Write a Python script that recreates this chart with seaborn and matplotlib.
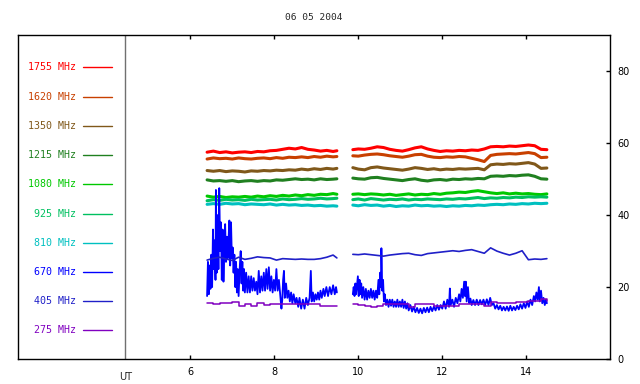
import numpy as np
import pandas as pd
import matplotlib
matplotlib.use("Agg")
import matplotlib.pyplot as plt
import seaborn as sns

# ---------------- data ----------------
title = "06 05 2004"
freqs = ["1755 MHz", "1620 MHz", "1350 MHz", "1215 MHz", "1080 MHz",
         "925 MHz", "810 MHz", "670 MHz", "405 MHz", "275 MHz"]
colors = ["#ff0000", "#c84000", "#80581a", "#208020", "#00c800",
          "#00c060", "#00c0c0", "#0000ff", "#2020c8", "#8000c0"]

t_seg1 = [6.40, 6.55, 6.70, 6.85, 7.00, 7.15, 7.30, 7.45, 7.60, 7.75, 7.90,
          8.05, 8.20, 8.35, 8.50, 8.65, 8.80, 8.95, 9.10, 9.25, 9.40, 9.49]
t_seg2 = [9.87, 10.00, 10.15, 10.30, 10.45, 10.60, 10.75, 10.90, 11.05, 11.20,
          11.35, 11.50, 11.65, 11.80, 11.95, 12.10, 12.25, 12.40, 12.55, 12.70,
          12.85, 13.00, 13.15, 13.30, 13.45, 13.60, 13.75, 13.90, 14.05, 14.20,
          14.35, 14.49]

v1755_a = [57.5, 57.8, 57.4, 57.6, 57.3, 57.5, 57.6, 57.4, 57.7, 57.6, 57.9,
           58.0, 58.3, 58.6, 58.4, 58.8, 58.3, 58.1, 57.8, 58.0, 57.7, 57.9]
v1755_b = [58.2, 58.4, 58.3, 58.6, 59.0, 58.8, 58.3, 58.0, 57.8, 58.2, 58.7,
           59.0, 58.4, 58.0, 57.7, 57.9, 57.8, 58.0, 57.9, 58.1, 58.0, 58.4,
           59.0, 59.1, 59.0, 59.2, 59.1, 59.3, 59.5, 59.3, 58.3, 58.2]
v1620_a = [55.6, 55.9, 55.7, 55.8, 55.6, 55.9, 55.7, 55.6, 55.8, 55.9, 55.7,
           56.0, 55.8, 56.1, 56.0, 56.2, 56.0, 56.3, 56.1, 56.4, 56.2, 56.3]
v1620_b = [56.5, 56.4, 56.7, 56.9, 57.0, 56.8, 56.5, 56.3, 56.1, 56.4, 56.8,
           56.9, 56.4, 56.1, 56.0, 56.2, 56.1, 56.3, 56.2, 55.8, 55.4, 54.9,
           56.6, 56.9, 57.0, 57.1, 57.0, 57.2, 57.4, 57.1, 56.0, 56.1]
v1350_a = [52.4, 52.2, 52.4, 52.1, 52.3, 52.2, 52.0, 52.3, 52.2, 52.4, 52.3,
           52.5, 52.4, 52.6, 52.5, 52.8, 52.6, 52.9, 52.7, 53.0, 52.8, 53.0]
v1350_b = [53.2, 52.8, 52.6, 53.2, 53.4, 53.1, 52.9, 52.7, 52.5, 52.8, 53.2,
           53.0, 52.7, 52.9, 52.6, 52.8, 52.7, 52.9, 52.8, 52.9, 53.0, 52.6,
           54.0, 54.2, 54.1, 54.3, 54.2, 54.4, 54.6, 54.2, 53.0, 53.1]
v1215_a = [49.8, 49.5, 49.6, 49.4, 49.6, 49.3, 49.5, 49.6, 49.4, 49.6, 49.5,
           49.8, 49.7, 49.9, 50.1, 49.9, 50.0, 49.8, 50.1, 49.9, 50.0, 50.1]
v1215_b = [50.3, 50.1, 50.0, 50.4, 50.5, 50.2, 50.0, 49.8, 49.6, 49.9, 50.1,
           49.7, 49.5, 49.8, 49.9, 49.7, 50.0, 49.9, 50.1, 50.0, 50.2, 50.1,
           50.8, 50.9, 50.8, 51.0, 50.9, 51.1, 51.2, 50.8, 50.1, 50.0]
v1080_a = [45.3, 45.0, 45.2, 44.9, 45.1, 45.0, 45.2, 45.0, 45.3, 45.1, 45.4,
           45.2, 45.5, 45.3, 45.6, 45.4, 45.7, 45.5, 45.8, 45.7, 46.0, 45.8]
v1080_b = [45.8, 45.9, 45.7, 45.9, 45.8, 45.6, 45.8, 45.5, 45.7, 45.9, 45.6,
           45.8, 45.7, 46.0, 45.8, 46.1, 46.2, 46.4, 46.3, 46.6, 46.8, 46.5,
           46.2, 46.0, 46.2, 45.9, 46.1, 45.9, 46.0, 45.8, 45.7, 45.9]
v925_a = [44.0, 44.3, 44.1, 44.4, 44.2, 44.3, 44.1, 44.4, 44.2, 44.3, 44.4,
          44.2, 44.5, 44.3, 44.4, 44.6, 44.4, 44.5, 44.7, 44.5, 44.6, 44.7]
v925_b = [44.3, 44.5, 44.2, 44.6, 44.4, 44.2, 44.4, 44.3, 44.5, 44.2, 44.4,
          44.3, 44.5, 44.4, 44.3, 44.5, 44.4, 44.6, 44.5, 44.7, 44.9, 44.6,
          44.8, 44.7, 44.9, 44.8, 45.0, 44.9, 45.1, 45.0, 45.1, 45.0]
v810_a = [43.0, 43.2, 43.0, 43.3, 43.1, 43.2, 42.9, 43.1, 43.0, 42.9, 43.1,
          42.8, 43.0, 42.8, 42.9, 42.7, 42.8, 42.6, 42.7, 42.5, 42.6, 42.5]
v810_b = [42.8, 42.6, 42.9, 42.7, 42.8, 42.5, 42.7, 42.4, 42.6, 42.5, 42.8,
          42.6, 42.7, 42.5, 42.6, 42.4, 42.6, 42.5, 42.7, 42.6, 42.8, 42.7,
          42.9, 43.0, 42.9, 43.1, 43.0, 43.2, 43.1, 43.3, 43.2, 43.3]
v405_a = [27.5, 28.0, 28.3, 27.8, 27.4, 28.3, 27.7, 28.0, 28.4, 28.2, 28.1,
          27.5, 27.9, 27.8, 27.7, 27.8, 27.7, 27.7, 27.9, 28.3, 28.9, 28.1]
v405_b = [29.1, 29.0, 29.2, 29.0, 28.8, 28.6, 28.9, 29.1, 29.3, 29.4, 29.0,
          28.8, 29.3, 29.5, 29.7, 29.9, 30.1, 29.9, 30.2, 30.4, 29.9, 29.4,
          30.9, 30.0, 29.4, 28.9, 29.4, 30.1, 27.6, 27.8, 27.7, 27.9]
v275_a = [15.7, 15.3, 15.6, 15.7, 15.9, 14.8, 15.3, 14.8, 15.5, 14.9, 15.2,
          15.3, 15.4, 15.2, 15.4, 15.3, 15.2, 15.2, 14.8, 14.7, 14.6, 14.6]
v275_b = [15.3, 14.9, 14.7, 14.5, 14.8, 15.3, 15.2, 15.3, 15.3, 14.4, 15.3,
          15.3, 15.3, 14.6, 14.6, 14.8, 14.7, 15.3, 15.3, 15.3, 15.2, 14.6,
          15.9, 15.6, 15.5, 15.6, 15.8, 15.9, 16.1, 16.2, 16.6, 16.0]

t670_a = [6.40, 6.42, 6.44, 6.46, 6.48, 6.50, 6.52, 6.54, 6.56, 6.58, 6.60,
          6.61, 6.63, 6.65, 6.67, 6.69, 6.71, 6.73, 6.75, 6.77, 6.79, 6.81,
          6.83, 6.85, 6.87, 6.89, 6.91, 6.93, 6.95, 6.97, 6.99, 7.01, 7.03,
          7.05, 7.07, 7.09, 7.11, 7.13, 7.15, 7.18, 7.20, 7.22, 7.24, 7.26,
          7.28, 7.30, 7.33, 7.36, 7.39, 7.42, 7.45, 7.48, 7.51, 7.54, 7.57,
          7.60, 7.63, 7.66, 7.69, 7.72, 7.75, 7.78, 7.81, 7.84, 7.87, 7.90,
          7.93, 7.96, 7.99, 8.02, 8.05, 8.08, 8.11, 8.14, 8.17, 8.19, 8.21,
          8.23, 8.25, 8.28, 8.31, 8.34, 8.37, 8.40, 8.43, 8.46, 8.50, 8.53,
          8.57, 8.60, 8.64, 8.68, 8.72, 8.76, 8.80, 8.84, 8.87, 8.89, 8.92,
          8.95, 8.98, 9.01, 9.04, 9.07, 9.10, 9.13, 9.17, 9.20, 9.24, 9.28,
          9.32, 9.36, 9.40, 9.44, 9.47, 9.49]
v670_a = [17.5, 27.0, 18.0, 26.0, 19.5, 29.0, 20.0, 36.0, 25.0, 33.0, 22.0,
          47.0, 24.0, 40.0, 25.0, 47.5, 30.0, 38.0, 22.0, 36.0, 21.5, 30.0,
          37.5, 27.0, 34.0, 28.0, 33.0, 38.5, 26.0, 38.0, 28.0, 31.0, 24.0,
          29.0, 20.0, 27.0, 18.5, 25.0, 17.5, 26.0, 30.0, 21.0, 27.0, 19.0,
          25.0, 18.5, 24.0, 18.5, 23.0, 18.5, 23.0, 19.0, 22.5, 19.0, 21.5,
          18.0, 24.5, 18.5, 23.0, 19.0, 24.0, 19.0, 25.0, 19.5, 25.5, 19.0,
          23.0, 18.5, 22.0, 19.0, 25.0, 19.0, 22.0, 18.0, 14.0, 16.5, 22.0,
          24.5, 17.0, 21.0, 17.0, 19.0, 16.0, 18.5, 15.5, 18.0, 15.5, 17.0,
          14.5, 17.0, 14.0, 16.5, 14.0, 17.0, 15.0, 17.0, 24.5, 16.0, 18.5,
          16.0, 18.0, 16.5, 18.5, 16.5, 19.0, 17.0, 19.5, 17.5, 20.0, 17.5,
          20.0, 18.0, 20.5, 18.0, 20.0, 18.5]
t670_b = [9.87, 9.89, 9.91, 9.93, 9.95, 9.97, 9.99, 10.01, 10.03, 10.05, 10.07,
          10.09, 10.12, 10.15, 10.18, 10.21, 10.24, 10.27, 10.30, 10.33, 10.36,
          10.39, 10.42, 10.45, 10.48, 10.50, 10.52, 10.54, 10.55, 10.57, 10.59,
          10.61, 10.63, 10.66, 10.69, 10.72, 10.75, 10.78, 10.81, 10.84, 10.87,
          10.90, 10.93, 10.96, 10.99, 11.02, 11.05, 11.08, 11.11, 11.14, 11.17,
          11.20, 11.24, 11.28, 11.32, 11.36, 11.40, 11.44, 11.48, 11.52, 11.56,
          11.60, 11.64, 11.68, 11.72, 11.76, 11.80, 11.84, 11.88, 11.92, 11.96,
          12.00, 12.04, 12.08, 12.12, 12.16, 12.18, 12.20, 12.24, 12.28, 12.32,
          12.36, 12.40, 12.43, 12.46, 12.49, 12.52, 12.54, 12.56, 12.58, 12.61,
          12.64, 12.67, 12.70, 12.74, 12.78, 12.82, 12.86, 12.90, 12.94, 12.98,
          13.02, 13.06, 13.10, 13.14, 13.18, 13.22, 13.26, 13.30, 13.34, 13.38,
          13.42, 13.46, 13.50, 13.54, 13.58, 13.62, 13.66, 13.70, 13.74, 13.78,
          13.82, 13.86, 13.90, 13.94, 13.98, 14.02, 14.06, 14.10, 14.14, 14.18,
          14.21, 14.24, 14.27, 14.30, 14.32, 14.35, 14.38, 14.41, 14.44, 14.47,
          14.49]
v670_b = [18.0, 20.0, 17.5, 21.0, 18.0, 20.5, 23.0, 17.5, 22.0, 18.0, 21.0,
          17.0, 20.0, 16.5, 19.5, 16.5, 19.0, 17.0, 19.5, 17.0, 19.0,
          16.5, 19.0, 17.0, 22.0, 18.0, 24.0, 20.0, 30.8, 19.0, 22.0,
          16.0, 18.0, 15.0, 16.5, 14.5, 16.5, 14.8, 16.5, 14.5, 16.0,
          14.5, 16.5, 14.5, 16.0, 14.5, 16.5, 14.2, 16.0, 14.0, 15.5,
          13.5, 15.0, 13.2, 14.5, 13.0, 14.2, 12.8, 14.0, 12.7, 14.2,
          13.0, 14.3, 13.0, 14.5, 13.3, 14.6, 13.5, 15.0, 13.7, 15.0,
          14.0, 16.0, 14.0, 16.5, 14.5, 19.6, 15.0, 16.5, 14.5, 17.0,
          15.5, 18.0, 16.0, 19.5, 17.0, 21.5, 17.5, 21.5, 16.0, 20.0,
          15.5, 16.8, 15.0, 16.4, 15.0, 16.5, 15.0, 16.4, 15.2, 16.5,
          15.0, 16.6, 15.0, 17.0, 15.0, 15.5, 14.0, 15.0, 13.8, 14.8,
          13.5, 14.5, 13.5, 14.6, 13.4, 14.8, 13.5, 14.5, 13.6, 14.8,
          13.8, 15.2, 14.0, 15.5, 14.2, 16.0, 14.5, 16.5, 15.0, 17.5,
          16.0, 18.5, 16.5, 20.0, 16.0, 19.0, 15.5, 17.0, 15.0, 16.5,
          15.5]

xticks = [6, 8, 10, 12, 14]
yticks = [0, 20, 40, 60, 80]

# ---------------- build long table ----------------
series = {
    "1755 MHz": [(t_seg1, v1755_a), (t_seg2, v1755_b)],
    "1620 MHz": [(t_seg1, v1620_a), (t_seg2, v1620_b)],
    "1350 MHz": [(t_seg1, v1350_a), (t_seg2, v1350_b)],
    "1215 MHz": [(t_seg1, v1215_a), (t_seg2, v1215_b)],
    "1080 MHz": [(t_seg1, v1080_a), (t_seg2, v1080_b)],
    "925 MHz": [(t_seg1, v925_a), (t_seg2, v925_b)],
    "810 MHz": [(t_seg1, v810_a), (t_seg2, v810_b)],
    "670 MHz": [(t670_a, v670_a), (t670_b, v670_b)],
    "405 MHz": [(t_seg1, v405_a), (t_seg2, v405_b)],
    "275 MHz": [(t_seg1, v275_a), (t_seg2, v275_b)],
}
rows = []
for f in freqs:
    for s, (tt, vv) in enumerate(series[f]):
        for t, v in zip(tt, vv):
            rows.append((f, s, t, v))
df = pd.DataFrame(rows, columns=["freq", "seg", "t", "v"])

# ---------------- plot ----------------
sns.set_style("white")
plt.rcParams["font.family"] = ["DejaVu Sans"]

fig = plt.figure(figsize=(6.4, 3.84), dpi=100)
ax = fig.add_axes([18 / 640, 1 - 359 / 384, (610.3 - 18) / 640, (359 - 35.3) / 384])

widths = {"670 MHz": 1.3, "405 MHz": 1.2, "275 MHz": 1.1}
for f, c in zip(freqs, colors):
    sub = df[df["freq"] == f]
    kw = {}
    if f == "275 MHz":
        kw["drawstyle"] = "steps-post"
    sns.lineplot(data=sub, x="t", y="v", units="seg", estimator=None,
                 color=c, lw=widths.get(f, 2.2), sort=False, ax=ax,
                 legend=False, **kw)

ax.set_xlim(1.898, 16.0)
ax.set_ylim(0, 90)
ax.axvline(4.452, color="#707070", lw=1.0)

# legend (text + line segments)
for i, (f, c) in enumerate(zip(freqs, colors)):
    yy = 81.1 - i * 8.13
    ax.text(3.29, yy, f, color=c, ha="right", va="center",
            fontsize=7.2, family="DejaVu Sans Mono")
    ax.plot([3.445, 4.13], [yy, yy], color=c, lw=1.0)

ax.set_xticks(xticks)
ax.set_xticklabels([str(x) for x in xticks])
ax.set_yticks(yticks)
ax.yaxis.tick_right()
ax.tick_params(axis="x", direction="in", top=True, bottom=True, length=3,
               width=1, labelsize=7, pad=6, colors="black")
ax.tick_params(axis="y", direction="in", left=False, right=True, length=3,
               width=1, labelsize=7, pad=5, colors="black")
ax.text(4.452, -3.6, "UT", ha="center", va="top", fontsize=7,
        transform=ax.transData)
ax.set_xlabel("")
ax.set_ylabel("")
for sp in ax.spines.values():
    sp.set_visible(True)
    sp.set_color("black")
    sp.set_linewidth(1.0)

fig.text(314 / 640, 1 - 17 / 384, title, ha="center", va="center",
         fontsize=6.8, family="DejaVu Sans Mono")

fig.savefig("out.png", dpi=100)
